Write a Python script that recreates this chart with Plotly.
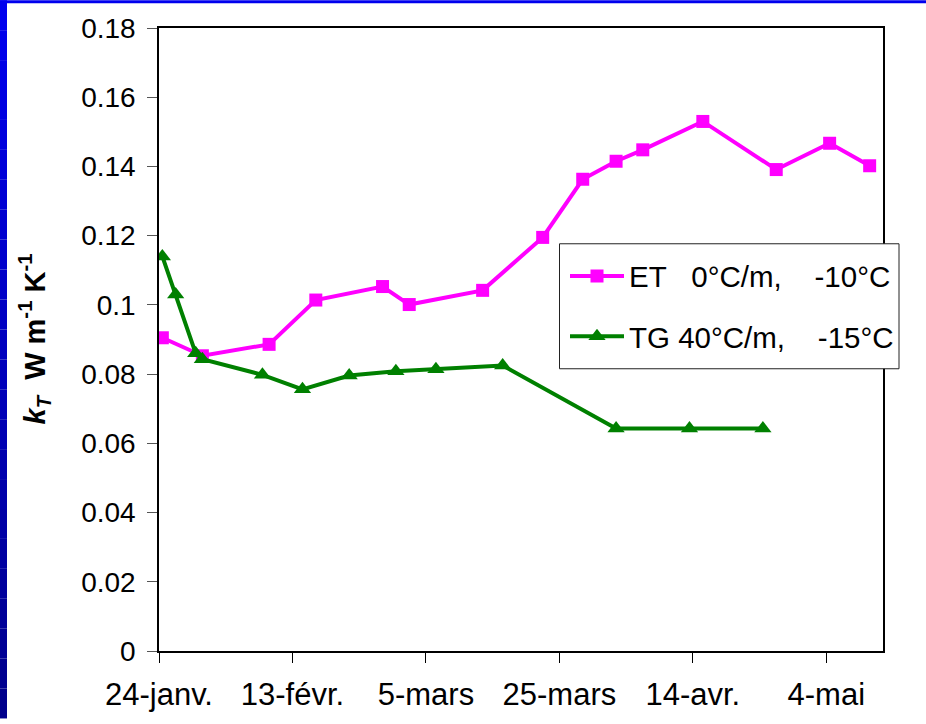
import plotly.graph_objects as go
import pandas as pd

# ---- data ----
et_dates = ["2003-01-24", "2003-01-30", "2003-02-09", "2003-02-16", "2003-02-26",
            "2003-03-02", "2003-03-13", "2003-03-22", "2003-03-28", "2003-04-02",
            "2003-04-06", "2003-04-15", "2003-04-26", "2003-05-04", "2003-05-10"]
et_values = [0.0905, 0.0853, 0.0886, 0.1014, 0.1053,
             0.1001, 0.1042, 0.1195, 0.1363, 0.1415,
             0.1448, 0.1530, 0.1391, 0.1467, 0.1402]

tg_dates = ["2003-01-24", "2003-01-26", "2003-01-29", "2003-01-30", "2003-02-08",
            "2003-02-14", "2003-02-21", "2003-02-28", "2003-03-06", "2003-03-16",
            "2003-04-02", "2003-04-13", "2003-04-24"]
tg_values = [0.1140, 0.1030, 0.0860, 0.0843, 0.0798,
             0.0756, 0.0796, 0.0808, 0.0814, 0.0825,
             0.0643, 0.0643, 0.0643]

et_name = "ET\u00a0\u00a0\u00a00°C/m,\u00a0\u00a0\u00a0\u00a0-10°C"
tg_name = "TG 40°C/m,\u00a0\u00a0\u00a0\u00a0-15°C"

x_tick_dates = ["2003-01-24", "2003-02-13", "2003-03-05", "2003-03-25", "2003-04-14", "2003-05-04"]
x_tick_labels = ["24-janv.", "13-févr.", "5-mars", "25-mars", "14-avr.", "4-mai"]

y_tick_values = [0, 0.02, 0.04, 0.06, 0.08, 0.1, 0.12, 0.14, 0.16, 0.18]
y_tick_labels = ["0", "0.02", "0.04", "0.06", "0.08", "0.1", "0.12", "0.14", "0.16", "0.18"]

# ---- figure ----
FONT = "Liberation Sans, Arial, sans-serif"
W, H = 926, 724
ML, MR, MT, MB = 159, 43, 28, 68
PW, PH = W - ML - MR, H - MT - MB

# Excel-style: day points centred between day boundaries
tickvals = [d - pd.Timedelta(hours=12) for d in pd.to_datetime(x_tick_dates)]
x_start = pd.to_datetime(x_tick_dates[0]) - pd.Timedelta(hours=12)
x_end = pd.Timestamp("2003-05-12")

fig = go.Figure()
fig.add_trace(go.Scatter(
    x=et_dates, y=et_values, name=et_name, mode="lines+markers",
    line=dict(color="#FF00FF", width=4),
    marker=dict(symbol="square", size=13, color="#FF00FF"),
    legendgroup="et",
))
fig.add_trace(go.Scatter(
    x=tg_dates, y=tg_values, name=tg_name, mode="lines+markers",
    line=dict(color="#008000", width=4),
    marker=dict(symbol="triangle-up", size=15, color="#008000"),
    legendgroup="tg",
))


def px_x(p):
    return (p - ML) / PW


def px_y(p):
    return (H - MB - p) / PH


shapes = []
# blue slide frame (left strip gradient + top strip)
nb = 24
for i in range(nb):
    y0p = H * i / nb
    y1p = H * (i + 1) / nb
    t = i / (nb - 1)
    b = int(round(238 - t * (238 - 140)))
    shapes.append(dict(type="rect", xref="paper", yref="paper",
                       x0=px_x(0), x1=px_x(7), y0=px_y(y1p), y1=px_y(y0p),
                       fillcolor=f"rgb(0,0,{b})", line=dict(width=0), layer="above"))
shapes.append(dict(type="rect", xref="paper", yref="paper",
                   x0=px_x(0), x1=px_x(W), y0=px_y(3), y1=px_y(0),
                   fillcolor="rgb(0,0,238)", line=dict(width=0), layer="above"))
# legend box
shapes.append(dict(type="rect", xref="paper", yref="paper",
                   x0=px_x(559.5), x1=px_x(899), y0=px_y(371.5), y1=px_y(245.5),
                   fillcolor="white", line=dict(color="#222", width=1), layer="above"))

fig.update_layout(
    width=W, height=H, autosize=False,
    margin=dict(l=ML, r=MR, t=MT, b=MB),
    paper_bgcolor="white", plot_bgcolor="white",
    font=dict(family=FONT, size=28, color="black"),
    showlegend=True,
    legend=dict(
        x=px_x(565), y=px_y(252), xanchor="left", yanchor="top",
        bgcolor="rgba(0,0,0,0)", borderwidth=0,
        font=dict(family=FONT, size=29.5, color="black"),
        tracegroupgap=19, itemwidth=54,
    ),
    shapes=shapes,
    annotations=[dict(
        text="<b><i>k</i><sub><i>T</i></sub>\u00a0\u00a0W m<sup>-1</sup> K<sup>-1</sup></b>",
        xref="paper", yref="paper", x=px_x(34), y=0.5,
        xanchor="center", yanchor="middle", textangle=-90, showarrow=False,
        font=dict(family=FONT, size=29, color="black"),
    )],
)

fig.update_xaxes(
    type="date", range=[x_start, x_end],
    tickmode="array", tickvals=tickvals, ticktext=x_tick_labels,
    ticks="outside", ticklen=10, tickwidth=1, tickcolor="black",
    showline=True, linecolor="black", linewidth=1.5, mirror=True,
    showgrid=False, zeroline=False,
    tickfont=dict(family=FONT, size=31, color="black"),
    ticklabelstandoff=5,
)
fig.update_yaxes(
    range=[0, 0.18],
    tickmode="array", tickvals=y_tick_values, ticktext=y_tick_labels,
    ticks="outside", ticklen=10, tickwidth=1, tickcolor="#555",
    showline=True, linecolor="black", linewidth=1.5, mirror=True,
    showgrid=False, zeroline=False,
    tickfont=dict(family=FONT, size=28, color="black"),
    ticklabelstandoff=6,
)

fig.write_html(
    "out.html",
    config={"displayModeBar": False},
    post_script="document.body.style.margin='0';document.body.style.padding='0';"
                "document.body.style.overflow='hidden';",
)
